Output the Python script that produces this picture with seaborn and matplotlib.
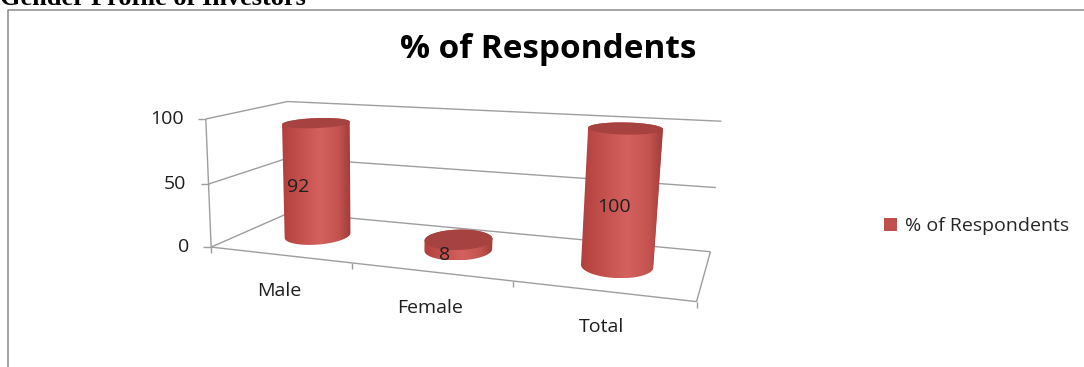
import numpy as np
import pandas as pd
import matplotlib
matplotlib.use("Agg")
import matplotlib.pyplot as plt
import matplotlib.transforms as mtransforms
from matplotlib.colors import LinearSegmentedColormap
from matplotlib.patches import Polygon
import seaborn as sns

# ---------------- data ----------------
categories = ["Male", "Female", "Total"]
respondents = [92, 8, 100]
value_ticks = [0, 50, 100]
series_label = "% of Respondents"
chart_title = "% of Respondents"
heading = "Gender Profile of Investors"

# ---------------- layout & style ----------------
W, H, DPI = 1084, 367, 100
# Page position (pixels from the top-left) of points on the 3-D plot box,
# given in box coordinates (along categories, along values, depth 0=front..1=back).
BOX_POINTS = [
    ((0, 0, 0), (214, 245)),
    ((0, 0.5, 0), (209, 184)),
    ((0, 1, 0), (204, 119)),
    ((1 / 3, 0, 0), (352, 263)),
    ((2 / 3, 0, 0), (513, 283)),
    ((1, 0, 0), (695, 302)),
    ((0, 0, 1), (288, 214)),
    ((0, 0.5, 1), (287, 158)),
    ((0, 1, 1), (290, 101)),
    ((1, 0, 1), (712, 250)),
    ((1, 0.5, 1), (716, 187)),
    ((1, 1, 1), (721, 122)),
]
BAR_WIDTH = 0.42      # cylinder diameter, in category widths
BAR_DEPTH = 0.5       # depth at which the cylinders stand
DEPTH_SPAN = 0.85     # floor depth measured in category widths
LABEL_DEPTH = 0.25    # depth of the value labels

BAR_RED = "#C0504D"
CAP_RED = "#A6423F"
GRID_GREY = "#9E9E9E"
FRAME_GREY = "#8C8C8C"
TEXT_DARK = "#1F1F1F"
BODY_CMAP = LinearSegmentedColormap.from_list(
    "cylinder",
    [(0.0, "#B1413E"), (0.25, "#C24F4C"), (0.55, "#D4615D"),
     (0.82, "#C45350"), (1.0, "#9E3C39")])

sns.set_style("white")
plt.rcParams["font.family"] = ["Open Sans", "DejaVu Sans"]


# ---------------- perspective camera ----------------
def fit_camera(points):
    rows = []
    for (X, Y, Z), (px, py) in points:
        u, v = px / W, py / H
        rows.append([X, Y, Z, 1, 0, 0, 0, 0, -u * X, -u * Y, -u * Z, -u])
        rows.append([0, 0, 0, 0, X, Y, Z, 1, -v * X, -v * Y, -v * Z, -v])
    _, _, vt = np.linalg.svd(np.asarray(rows, float))
    return vt[-1].reshape(3, 4)


CAM = fit_camera(BOX_POINTS)
n_cat = len(categories)
x_lo, x_hi = -0.5, n_cat - 0.5
y_lo, y_hi = value_ticks[0], value_ticks[-1]


def project(x, y, z):
    """(category, value, depth) -> page fraction (x right, y down)."""
    bx, by, bz = np.broadcast_arrays(
        (np.asarray(x, float) - x_lo) / (x_hi - x_lo),
        (np.asarray(y, float) - y_lo) / (y_hi - y_lo),
        np.asarray(z, float))
    h = CAM @ np.vstack([bx.ravel(), by.ravel(), bz.ravel(), np.ones(bx.size)])
    return h[0] / h[2], h[1] / h[2]


class DepthPlane(mtransforms.Transform):
    """Maps (category, value) data on a plane of fixed depth onto the page."""
    input_dims = output_dims = 2

    def __init__(self, plane_depth):
        super().__init__()
        self.plane_depth = plane_depth

    def transform_non_affine(self, values):
        arr = np.asarray(values, float)
        flat = arr.reshape(-1, 2)
        px, py = project(flat[:, 0], flat[:, 1], self.plane_depth)
        out = np.column_stack([px, py])
        return out[0] if arr.ndim == 1 else out


def convex_hull(pts):
    pts = sorted(map(tuple, pts))

    def cross(o, a, b):
        return (a[0] - o[0]) * (b[1] - o[1]) - (a[1] - o[1]) * (b[0] - o[0])

    lower, upper = [], []
    for p in pts:
        while len(lower) >= 2 and cross(lower[-2], lower[-1], p) <= 0:
            lower.pop()
        lower.append(p)
    for p in reversed(pts):
        while len(upper) >= 2 and cross(upper[-2], upper[-1], p) <= 0:
            upper.pop()
        upper.append(p)
    return np.array(lower[:-1] + upper[:-1])


# ---------------- figure ----------------
fig = plt.figure(figsize=(W / DPI, H / DPI), dpi=DPI)
canvas = fig.add_axes([0, 0, 1, 1], zorder=1)
canvas.set_xlim(0, 1)
canvas.set_ylim(1, 0)
canvas.set_axis_off()

bars_ax = fig.add_axes([0, 0, 1, 1], zorder=2)
df = pd.DataFrame({"Gender": categories, "Percent": respondents})
sns.barplot(data=df, x="Gender", y="Percent", order=categories,
            color=BAR_RED, saturation=1, width=BAR_WIDTH, errorbar=None,
            linewidth=0, label=series_label, ax=bars_ax)
bars = list(bars_ax.patches)
bars_ax.legend(loc="center left", bbox_to_anchor=(884 / W, 1 - 226 / H),
               frameon=False, fontsize=14, handlelength=0.65,
               handleheight=0.65, handletextpad=0.45, borderpad=0,
               borderaxespad=0)
bars_ax.set_axis_off()
page = canvas.transData

# walls: gridlines on the left and back walls, floor outline, value axis
grid_kw = dict(color=GRID_GREY, lw=1.0, solid_capstyle="butt", zorder=1)
for v in value_ticks:
    canvas.plot(*project([x_lo, x_lo, x_hi], v, [0, 1, 1]), **grid_kw)
canvas.plot(*project([x_lo, x_hi, x_hi], 0, [0, 0, 1]), **grid_kw)
canvas.plot(*project([x_lo, x_lo], [y_lo, y_hi], [0, 0]), **grid_kw)

# value ticks and labels
for v in value_ticks:
    px, py = project(x_lo, v, 0)
    canvas.plot([px[0] - 8 / W, px[0]], [py[0], py[0]], **grid_kw)
    canvas.text(px[0] - 22 / W, py[0], f"{v}", ha="right", va="center",
                fontsize=14, color=TEXT_DARK)

# category ticks and labels along the front edge
for b in np.arange(x_lo, x_hi + 0.01, 1.0):
    px, py = project(b, 0, 0)
    canvas.plot([px[0], px[0]], [py[0], py[0] + 6 / H], **grid_kw)
for i, name in enumerate(categories):
    px, py = project(i, 0, 0)
    canvas.text(px[0], py[0] + 36 / H, name, ha="center", va="center",
                fontsize=14, color=TEXT_DARK)

# cylinders built on the seaborn bars
theta = np.linspace(0, 2 * np.pi, 241)
gradient = np.linspace(0, 1, 256)[None, :]
for bar, value in zip(bars, respondents):
    bar.set_transform(DepthPlane(BAR_DEPTH) + page)
    cx = bar.get_x() + bar.get_width() / 2
    r = bar.get_width() / 2
    top = bar.get_y() + bar.get_height()
    ring_x = cx + r * np.cos(theta)
    ring_z = BAR_DEPTH + r / DEPTH_SPAN * np.sin(theta)
    bx, by = project(ring_x, 0, ring_z)
    tx, ty = project(ring_x, top, ring_z)
    hull = convex_hull(np.column_stack([np.r_[bx, tx], np.r_[by, ty]]))
    body = Polygon(hull, closed=True, transform=page, facecolor="none",
                   edgecolor="none")
    bars_ax.add_patch(body)
    x0, x1 = hull[:, 0].min(), hull[:, 0].max()
    y0, y1 = hull[:, 1].min(), hull[:, 1].max()
    img = bars_ax.imshow(gradient, cmap=BODY_CMAP, extent=(x0, x1, y1, y0),
                         aspect="auto", interpolation="bilinear",
                         transform=page, zorder=3)
    img.set_clip_path(body)
    bars_ax.add_patch(Polygon(np.column_stack([tx, ty]), closed=True,
                              transform=page, facecolor=CAP_RED,
                              edgecolor="none", zorder=4))
    lx, ly = project(cx, value / 2, LABEL_DEPTH)
    bars_ax.text(lx[0], ly[0], f"{value}", ha="center", va="center",
                 fontsize=14, color=TEXT_DARK, transform=page, zorder=5)

# chart title, page heading and chart frame
canvas.text(548 / W, 50 / H, chart_title, ha="center", va="center",
            fontsize=24, fontweight="bold", color="#000000")
canvas.text(0, 5 / H, heading, ha="left", va="baseline", fontsize=19,
            fontweight="bold", color="#000000",
            family=["Liberation Serif", "DejaVu Serif"])
canvas.plot([7.5 / W, 7.5 / W, 1.0], [1.0, 9.5 / H, 9.5 / H],
            color=FRAME_GREY, lw=1.1, solid_capstyle="butt", zorder=1)

fig.savefig("out.png", dpi=DPI)
